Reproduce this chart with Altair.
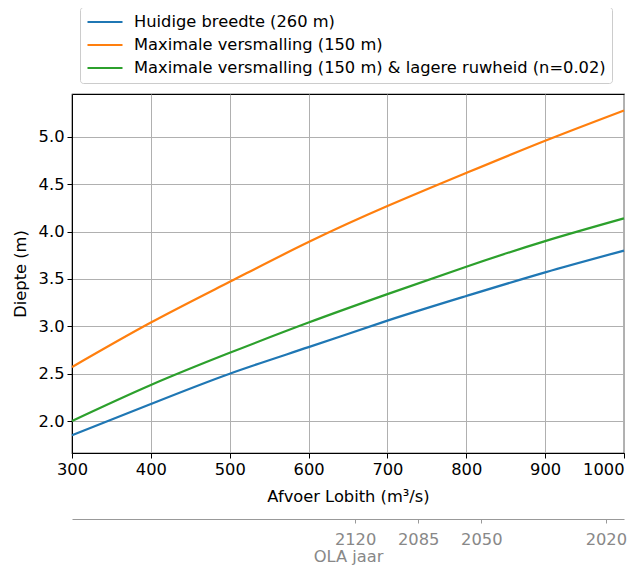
import altair as alt
import pandas as pd

# ---- data ----
discharge = [300, 400, 500, 600, 700, 800, 900, 1000]
huidige = [1.85, 2.18, 2.50, 2.78, 3.06, 3.32, 3.57, 3.80]
versmalling = [2.57, 3.04, 3.47, 3.89, 4.27, 4.62, 4.96, 5.28]
ruwheid = [2.00, 2.38, 2.72, 3.04, 3.34, 3.63, 3.90, 4.14]

series_names = [
    "Huidige breedte (260 m)",
    "Maximale versmalling (150 m)",
    "Maximale versmalling (150 m) & lagere ruwheid (n=0.02)",
]
series_colors = ["#1f77b4", "#ff7f0e", "#2ca02c"]

x_ticks = [300, 400, 500, 600, 700, 800, 900, 1000]
y_ticks = [2.0, 2.5, 3.0, 3.5, 4.0, 4.5, 5.0]

ola_discharge = [659, 739, 819, 977]
ola_years = ["2120", "2085", "2050", "2020"]

# ---- tables ----
rows = []
for name, vals in zip(series_names, [huidige, versmalling, ruwheid]):
    for q, d in zip(discharge, vals):
        rows.append({"serie": name, "afvoer": q, "diepte": d})
df = pd.DataFrame(rows)
ola_df = pd.DataFrame({"afvoer": ola_discharge, "jaar": ola_years})

label_expr = "''"
for q, y in reversed(list(zip(ola_discharge, ola_years))):
    label_expr = f"datum.value == {q} ? '{y}' : ({label_expr})"

FONT = "DejaVu Sans"
FS = 16.3
xdom = [300, 1000]

main = alt.Chart(df).mark_line(strokeWidth=2.2, interpolate="natural").encode(
    x=alt.X(
        "afvoer:Q",
        scale=alt.Scale(domain=xdom, nice=False, zero=False),
        axis=alt.Axis(
            title="Afvoer Lobith (m³/s)",
            values=x_ticks,
            format="d",
            grid=True,
            labelFlush=False,
            labelOverlap=False,
            labelAlign=alt.expr(f"datum.value == {x_ticks[-1]} ? 'right' : 'center'"),
            titlePadding=11,
        ),
    ),
    y=alt.Y(
        "diepte:Q",
        scale=alt.Scale(domain=[1.662, 5.454], nice=False, zero=False),
        axis=alt.Axis(
            title="Diepte (m)",
            values=y_ticks,
            format=".1f",
            grid=True,
            labelFlush=False,
            titlePadding=10,
        ),
    ),
    color=alt.Color(
        "serie:N",
        scale=alt.Scale(domain=series_names, range=series_colors),
        legend=alt.Legend(
            title=None,
            orient="none",
            legendX=8,
            legendY=-87,
            symbolType="stroke",
            symbolSize=1225,
            symbolStrokeWidth=2.2,
            clipHeight=18,
            rowPadding=5,
            labelOffset=10,
            labelLimit=700,
            labelFontSize=FS,
            labelColor="#000000",
            padding=6,
            fillColor="white",
            strokeColor="#cccccc",
            cornerRadius=3,
        ),
    ),
)

ola = alt.Chart(ola_df).mark_point(opacity=0).encode(
    x=alt.X(
        "afvoer:Q",
        scale=alt.Scale(domain=xdom, nice=False, zero=False),
        axis=alt.Axis(
            orient="bottom",
            offset=66,
            title="OLA jaar",
            values=ola_discharge,
            labelExpr=label_expr,
            labelFlush=False,
            grid=False,
            domainColor="#999999",
            tickColor="#999999",
            labelColor="#888888",
            titleColor="#888888",
            tickSize=4,
            labelPadding=8,
            titlePadding=1,
        ),
    ),
)

chart = (
    alt.layer(main, ola)
    .resolve_scale(x="independent")
    .properties(
        width=552,
        height=359,
        autosize=alt.AutoSizeParams(type="none"),
        padding={"left": 64, "top": 86, "right": 3, "bottom": 125},
    )
    .configure(font=FONT)
    .configure_view(stroke="#000000", strokeWidth=1.2)
    .configure_axis(
        labelFont=FONT,
        titleFont=FONT,
        labelFontSize=FS,
        titleFontSize=FS,
        titleFontWeight="normal",
        labelColor="#000000",
        titleColor="#000000",
        domainColor="#000000",
        tickColor="#000000",
        tickSize=5,
        labelPadding=3,
        gridColor="#b0b0b0",
        gridWidth=1,
        gridOpacity=1,
    )
    .configure_legend(labelFont=FONT)
)

chart.save("out.html", embed_options={"renderer": "svg", "actions": False})
